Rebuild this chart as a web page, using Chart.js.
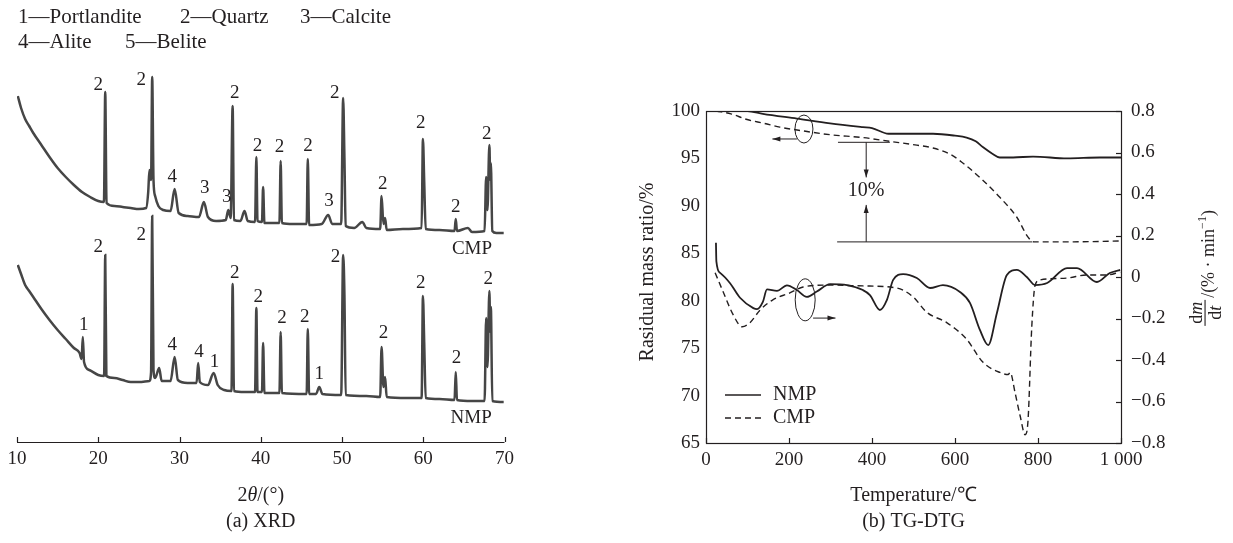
<!DOCTYPE html>
<html>
<head>
<meta charset="utf-8">
<script src="https://cdn.jsdelivr.net/npm/chart.js@4.4.1/dist/chart.umd.min.js"></script>
<style>
  html, body { margin: 0; padding: 0; background: #fff; }
  body { width: 1233px; height: 543px; position: relative; overflow: hidden; }
  #xrd { position: absolute; left: 0; top: 0; }
  #tg { position: absolute; left: 620px; top: 0; }
</style>
</head>
<body>
<canvas id="xrd" width="520" height="543"></canvas>
<canvas id="tg" width="613" height="543"></canvas>
<script>
const FONT = '"Liberation Serif", "Times New Roman", serif';
const INK = '#231f20';

// ---------- (a) XRD  (counts are arbitrary, CMP trace is shifted up) ----------
const phaseNames = ['Portlandite', 'Quartz', 'Calcite', 'Alite', 'Belite'];

const cmpAngle = [10.1, 10.5, 11.0, 11.5, 12.0, 13.0, 14.0, 15.0, 16.0, 17.0, 18.0, 19.0, 20.0, 20.7, 20.86, 21.02,
  22.0, 23.0, 24.0, 25.0, 25.9, 26.15, 26.3, 26.5, 26.64, 26.8, 27.0, 27.4, 28.0, 28.9, 29.4, 29.9,
  31.0, 32.4, 33.0, 33.5, 34.5, 35.7, 36.0, 36.3, 36.54, 36.7, 37.5, 38.0, 38.4, 39.3, 39.46, 39.6,
  40.15, 40.29, 40.45, 41.5, 42.3, 42.45, 42.6, 44.0, 45.65, 45.79, 45.95, 47.5, 48.3, 48.8, 49.9,
  50.14, 50.3, 50.45, 51.5, 52.5, 53.0, 54.7, 54.87, 55.1, 55.3, 55.5, 57.5, 59.8, 59.96, 60.12, 60.3,
  62.0, 63.85, 64.0, 64.15, 65.5, 66.0, 67.55, 67.74, 67.9, 68.14, 68.25, 68.32, 68.5, 69.0, 69.9];
const cmpCount = [346, 334, 323, 316, 309, 297, 285, 274, 265, 257, 250, 245, 241, 240, 350, 239,
  236, 235, 234, 233, 234, 250, 272, 262, 365, 262, 246, 236, 232, 231, 253, 229,
  226, 225, 240, 225, 221, 222, 232, 224, 336, 222, 221, 231, 221, 220, 285, 221,
  220, 255, 219, 219, 219, 281, 219, 218, 218, 283, 217, 218, 227, 218, 218,
  344, 284, 216, 214, 220, 214, 213, 246, 218, 224, 212, 213, 214, 303, 260, 213,
  212, 211, 223, 211, 214, 210, 211, 265, 232, 297, 262, 279, 211, 209, 209];

const nmpAngle = [10.1, 10.5, 11.0, 11.5, 12.0, 13.0, 14.0, 15.0, 16.0, 17.0, 17.7, 17.95, 18.1, 18.25, 18.9, 20.0,
  20.72, 20.86, 21.0, 22.0, 23.0, 24.0, 25.0, 26.3, 26.5, 26.64, 26.8, 27.0, 27.5, 27.8, 28.9, 29.4, 29.8,
  31.0, 32.1, 32.3, 32.5, 33.5, 34.2, 34.7, 35.5, 36.4, 36.54, 36.7, 38.0, 39.3, 39.46, 39.6,
  40.15, 40.29, 40.45, 42.3, 42.45, 42.6, 45.65, 45.79, 45.95, 46.8, 47.2, 47.6, 49.9,
  50.14, 50.3, 50.45, 53.0, 54.7, 54.87, 55.1, 55.3, 55.5, 58.0, 59.8, 59.96, 60.12, 60.3,
  62.0, 63.85, 64.0, 64.15, 66.0, 67.55, 67.74, 67.9, 68.14, 68.25, 68.32, 68.5, 69.9];
const nmpCount = [177, 168, 157, 151, 145, 133, 122, 112, 103, 94, 89, 83, 105, 80, 72, 67,
  66, 187, 66, 64, 62, 60, 60, 61, 70, 226, 72, 64, 74, 61, 61, 85, 62,
  59, 59, 79, 60, 57, 69, 57, 52, 51, 158, 51, 50, 50, 134, 50,
  50, 99, 49, 49, 110, 49, 48, 113, 48, 48, 55, 48, 47,
  187, 147, 47, 46, 45, 95, 55, 65, 45, 44, 44, 146, 99, 44,
  43, 42, 70, 42, 41, 41, 124, 75, 151, 110, 135, 41, 40];

// phase numbers written over the peaks (2θ, counts of the number's centre)
const cmpMarkText = ['2', '2', '4', '3', '3', '2', '2', '2', '2', '3', '2', '2', '2', '2', '2'];
const cmpMarkAngle = [20.0, 25.3, 29.1, 33.1, 35.8, 36.8, 39.6, 42.3, 45.8, 48.4, 49.1, 55.0, 59.7, 64.0, 67.8];
const cmpMarkCount = [357, 362, 265, 254, 245, 349, 296, 295, 296, 241, 349, 258, 319, 235, 308];
const nmpMarkText = ['1', '2', '2', '4', '4', '1', '2', '2', '2', '2', '1', '2', '2', '2', '2', '2'];
const nmpMarkAngle = [18.2, 20.0, 25.3, 29.1, 32.4, 34.3, 36.8, 39.7, 42.6, 45.4, 47.2, 49.2, 55.1, 59.7, 64.1, 68.0];
const nmpMarkCount = [117, 195, 207, 97, 90, 80, 169, 145, 124, 125, 68, 185, 109, 159, 84, 163];
const sampleNames = ['CMP', 'NMP'];
const sampleAngle = [66.0, 65.9];
const sampleCount = [193, 24];

// ---------- (b) TG-DTG ----------
const nmpTgTemp = [25, 100, 137, 219, 299, 378, 400, 440, 470, 547, 600, 628, 650, 667, 690, 708, 740, 788, 870, 949, 1000];
const nmpTgMass = [100, 100, 99.7, 99.2, 98.7, 98.3, 98.2, 97.6, 97.6, 97.6, 97.4, 97.2, 96.8, 96.2, 95.5, 95.1, 95.1, 95.2, 95.0, 95.1, 95.1];
const cmpTgTemp = [25, 60, 99, 140, 178, 234, 299, 378, 443, 508, 547, 590, 628, 667, 708, 749, 776, 790, 870, 1000];
const cmpTgMass = [100, 99.7, 99.1, 98.7, 98.3, 97.9, 97.5, 97.2, 96.8, 96.4, 96.1, 95.4, 94.2, 92.7, 90.9, 88.8, 86.7, 86.2, 86.2, 86.3];

const nmpDtgTemp = [24, 25, 34, 58, 82, 114, 123, 137, 147, 171, 195, 219, 243, 267, 299, 340, 378, 395, 419, 436, 451, 475,
  508, 540, 571, 612, 636, 660, 680, 701, 725, 749, 773, 793, 822, 870, 894, 942, 973, 998];
const nmpDtgRate = [0.165, 0.075, 0.02, -0.03, -0.10, -0.15, -0.155, -0.12, -0.06, -0.067, -0.04, -0.063, -0.096, -0.07, -0.034, -0.039, -0.063, -0.087, -0.159, -0.11, -0.014, 0.014,
  -0.005, -0.053, -0.039, -0.072, -0.125, -0.255, -0.328, -0.173, 0.01, 0.034, 0, -0.039, -0.029, 0.043, 0.043, -0.024, 0.019, 0.034];
const cmpDtgTemp = [22, 41, 65, 87, 106, 130, 161, 202, 234, 299, 378, 460, 499, 532, 580, 628, 667, 708, 728, 733, 745, 757, 769, 776, 785, 793, 805, 870, 918, 966, 998];
const cmpDtgRate = [0.02, -0.07, -0.18, -0.24, -0.22, -0.16, -0.11, -0.077, -0.048, -0.039, -0.043, -0.053, -0.096, -0.17, -0.22, -0.30, -0.41, -0.46, -0.47, -0.46, -0.56, -0.67, -0.76, -0.69, -0.24, -0.04, -0.014, -0.005, 0.01, 0.01, 0.024];

// 10 % mass-loss marker (temperature, mass)
const lossTopMass = 96.7, lossBottomMass = 86.2;
const lossText = '10%';

const pts = (xs, ys) => xs.map((v, i) => ({ x: v, y: ys[i] }));

function arrow(ctx, x1, y1, x2, y2) {
  const ang = Math.atan2(y2 - y1, x2 - x1);
  ctx.beginPath(); ctx.moveTo(x1, y1); ctx.lineTo(x2, y2); ctx.stroke();
  ctx.beginPath();
  ctx.moveTo(x2, y2);
  ctx.lineTo(x2 - 8 * Math.cos(ang) + 2.5 * Math.sin(ang), y2 - 8 * Math.sin(ang) - 2.5 * Math.cos(ang));
  ctx.lineTo(x2 - 8 * Math.cos(ang) - 2.5 * Math.sin(ang), y2 - 8 * Math.sin(ang) + 2.5 * Math.cos(ang));
  ctx.closePath(); ctx.fill();
}

// ---------------- XRD chart ----------------
const xrdDecor = {
  id: 'xrdDecor',
  afterDatasetsDraw(chart) {
    const { ctx, chartArea: a, scales: { x, y } } = chart;
    ctx.save();
    ctx.strokeStyle = INK; ctx.fillStyle = INK; ctx.lineWidth = 1.2;
    ctx.beginPath(); ctx.moveTo(a.left, a.bottom + 0.5); ctx.lineTo(a.right, a.bottom + 0.5); ctx.stroke();
    x.ticks.forEach(t => {
      const px = Math.round(x.getPixelForValue(t.value)) + 0.5;
      ctx.beginPath(); ctx.moveTo(px, a.bottom); ctx.lineTo(px, a.bottom - 5); ctx.stroke();
    });
    ctx.font = '19px ' + FONT; ctx.textAlign = 'center'; ctx.textBaseline = 'middle';
    cmpMarkText.forEach((s, i) => ctx.fillText(s, x.getPixelForValue(cmpMarkAngle[i]), y.getPixelForValue(cmpMarkCount[i])));
    nmpMarkText.forEach((s, i) => ctx.fillText(s, x.getPixelForValue(nmpMarkAngle[i]), y.getPixelForValue(nmpMarkCount[i])));
    sampleNames.forEach((s, i) => ctx.fillText(s, x.getPixelForValue(sampleAngle[i]), y.getPixelForValue(sampleCount[i])));

    // phase key
    ctx.font = '21px ' + FONT; ctx.textAlign = 'left';
    const keyX = [18, 180, 300, 18, 125], keyY = [17, 17, 17, 42, 42];
    phaseNames.forEach((n, i) => ctx.fillText((i + 1) + '\u2014' + n, keyX[i], keyY[i]));

    // axis title 2θ/(°) and caption
    const cx = (a.left + a.right) / 2;
    ctx.font = '20px ' + FONT;
    const w2 = ctx.measureText('2').width, wr = ctx.measureText('/(\u00b0)').width;
    ctx.font = 'italic 20px ' + FONT;
    const wt = ctx.measureText('\u03b8').width;
    let tx = cx - (w2 + wt + wr) / 2;
    ctx.font = '20px ' + FONT; ctx.fillText('2', tx, 496); tx += w2;
    ctx.font = 'italic 20px ' + FONT; ctx.fillText('\u03b8', tx, 496); tx += wt;
    ctx.font = '20px ' + FONT; ctx.fillText('/(\u00b0)', tx, 496);
    ctx.textAlign = 'center';
    ctx.fillText('(a) XRD', cx, 522);
    ctx.restore();
  }
};

new Chart(document.getElementById('xrd'), {
  type: 'line',
  data: {
    datasets: [
      { label: 'CMP', data: pts(cmpAngle, cmpCount), borderColor: '#464646', borderWidth: 2.5, pointRadius: 0, cubicInterpolationMode: 'monotone' },
      { label: 'NMP', data: pts(nmpAngle, nmpCount), borderColor: '#464646', borderWidth: 2.5, pointRadius: 0, cubicInterpolationMode: 'monotone' }
    ]
  },
  options: {
    responsive: false,
    animation: false,
    events: [],
    layout: { padding: { left: 17, right: 9, top: 62, bottom: 0 } },
    plugins: { legend: { display: false }, tooltip: { enabled: false } },
    scales: {
      x: {
        type: 'linear', min: 10, max: 70,
        grid: { display: false, drawTicks: false },
        border: { display: false },
        ticks: { stepSize: 10, padding: 6, color: INK, font: { family: FONT, size: 19 } },
        afterFit(s) { s.height = 101; }
      },
      y: { display: false, min: 0, max: 380 }
    }
  },
  plugins: [xrdDecor]
});

// ---------------- TG-DTG chart ----------------
const tgDecor = {
  id: 'tgDecor',
  afterDatasetsDraw(chart) {
    const { ctx, chartArea: a, scales: { x, y, y1 } } = chart;
    ctx.save();
    ctx.strokeStyle = INK; ctx.fillStyle = INK; ctx.lineWidth = 1.2;
    ctx.strokeRect(Math.round(a.left) + 0.5, Math.round(a.top) + 0.5, Math.round(a.right - a.left), Math.round(a.bottom - a.top));
    x.ticks.forEach(t => {
      const px = Math.round(x.getPixelForValue(t.value)) + 0.5;
      ctx.beginPath(); ctx.moveTo(px, a.bottom); ctx.lineTo(px, a.bottom - 5); ctx.stroke();
    });
    y1.ticks.forEach(t => {
      const py = Math.round(y1.getPixelForValue(t.value)) + 0.5;
      ctx.beginPath(); ctx.moveTo(a.right, py); ctx.lineTo(a.right - 5, py); ctx.stroke();
    });

    ctx.lineWidth = 1;
    // ellipse + arrow for TG curves (left axis)
    ctx.beginPath();
    ctx.ellipse(x.getPixelForValue(236), y.getPixelForValue(98.1), 9, 14, 0, 0, Math.PI * 2);
    ctx.stroke();
    arrow(ctx, x.getPixelForValue(219), y.getPixelForValue(97.05), x.getPixelForValue(160), y.getPixelForValue(97.05));
    // ellipse + arrow for DTG curves (right axis)
    ctx.beginPath();
    ctx.ellipse(x.getPixelForValue(239), y1.getPixelForValue(-0.11), 10, 21, 0, 0, Math.PI * 2);
    ctx.stroke();
    arrow(ctx, x.getPixelForValue(258), y1.getPixelForValue(-0.198), x.getPixelForValue(312), y1.getPixelForValue(-0.198));

    // 10 % loss marker
    const yt = y.getPixelForValue(lossTopMass), yb = y.getPixelForValue(lossBottomMass);
    ctx.beginPath();
    ctx.moveTo(x.getPixelForValue(318), yt); ctx.lineTo(x.getPixelForValue(443), yt);
    ctx.moveTo(x.getPixelForValue(316), yb); ctx.lineTo(x.getPixelForValue(786), yb);
    ctx.stroke();
    const xa = x.getPixelForValue(386);
    arrow(ctx, xa, yt, xa, y.getPixelForValue(93.0));
    arrow(ctx, xa, yb, xa, y.getPixelForValue(90.1));
    ctx.font = '20px ' + FONT; ctx.textAlign = 'center'; ctx.textBaseline = 'middle';
    ctx.fillText(lossText, xa, y.getPixelForValue(91.55));

    // legend inside the frame
    chart.data.datasets.slice(0, 2).forEach((ds, i) => {
      const ly = 395 + i * 23;
      ctx.save();
      ctx.lineWidth = 1.6; ctx.setLineDash(ds.borderDash || []);
      ctx.beginPath(); ctx.moveTo(a.left + 19, ly); ctx.lineTo(a.left + 55, ly); ctx.stroke();
      ctx.restore();
      ctx.textAlign = 'left';
      ctx.fillText(ds.label, a.left + 67, ly);
    });

    // axis titles and caption
    const cx = (a.left + a.right) / 2;
    ctx.textAlign = 'center';
    ctx.fillText('Temperature/\u2103', cx, 496);
    ctx.fillText('(b) TG-DTG', cx, 522);

    ctx.save();
    ctx.translate(28, 272); ctx.rotate(-Math.PI / 2);
    ctx.fillText('Rasidual mass ratio/%', 0, 0);
    ctx.restore();

    // dm/dt /(%·min-1)
    ctx.save();
    ctx.translate(585, 268); ctx.rotate(-Math.PI / 2);
    ctx.textAlign = 'left'; ctx.textBaseline = 'alphabetic';
    const up = '18px ' + FONT, it = 'italic 18px ' + FONT, sm = '12px ' + FONT;
    ctx.font = up; const wd = ctx.measureText('d').width;
    ctx.font = it; const wm = ctx.measureText('m').width, wtt = ctx.measureText('t').width;
    const fracW = wd + wm + 4;
    ctx.font = up; const r1 = '/(% \u00b7 min', w1 = ctx.measureText(r1).width, w3 = ctx.measureText(')').width;
    ctx.font = sm; const w2 = ctx.measureText('\u22121').width;
    const total = fracW + 2 + w1 + w2 + w3;
    const x0 = -total / 2;
    let nx = x0 + (fracW - wd - wm) / 2;
    ctx.font = up; ctx.fillText('d', nx, -3); ctx.font = it; ctx.fillText('m', nx + wd, -3);
    ctx.fillRect(x0, -0.5, fracW, 1.1);
    nx = x0 + (fracW - wd - wtt) / 2;
    ctx.font = up; ctx.fillText('d', nx, 16); ctx.font = it; ctx.fillText('t', nx + wd, 16);
    let rx = x0 + fracW + 2;
    ctx.font = up; ctx.fillText(r1, rx, 9); rx += w1;
    ctx.font = sm; ctx.fillText('\u22121', rx, 1); rx += w2;
    ctx.font = up; ctx.fillText(')', rx, 9);
    ctx.restore();

    ctx.restore();
  }
};

new Chart(document.getElementById('tg'), {
  type: 'line',
  data: {
    datasets: [
      { label: 'NMP', data: pts(nmpTgTemp, nmpTgMass), yAxisID: 'y', borderColor: INK, borderWidth: 1.8, pointRadius: 0, cubicInterpolationMode: 'monotone' },
      { label: 'CMP', data: pts(cmpTgTemp, cmpTgMass), yAxisID: 'y', borderColor: INK, borderWidth: 1.4, borderDash: [6, 4], pointRadius: 0, cubicInterpolationMode: 'monotone' },
      { label: 'NMP DTG', data: pts(nmpDtgTemp, nmpDtgRate), yAxisID: 'y1', borderColor: INK, borderWidth: 1.8, pointRadius: 0, cubicInterpolationMode: 'monotone' },
      { label: 'CMP DTG', data: pts(cmpDtgTemp, cmpDtgRate), yAxisID: 'y1', borderColor: INK, borderWidth: 1.4, borderDash: [6, 4], pointRadius: 0, cubicInterpolationMode: 'monotone' }
    ]
  },
  options: {
    responsive: false,
    animation: false,
    events: [],
    layout: { padding: { left: 0, right: 0, top: 111, bottom: 0 } },
    plugins: { legend: { display: false }, tooltip: { enabled: false } },
    scales: {
      x: {
        type: 'linear', min: 0, max: 1000,
        grid: { display: false, drawTicks: false },
        border: { display: false },
        ticks: {
          stepSize: 200, padding: 6, color: INK, font: { family: FONT, size: 19 },
          callback: v => v >= 1000 ? String(v).replace(/(\d)(\d{3})$/, '$1 $2') : String(v)
        },
        afterFit(s) { s.height = 100; }
      },
      y: {
        position: 'left', min: 65, max: 100,
        grid: { display: false, drawTicks: false },
        border: { display: false },
        ticks: { stepSize: 5, padding: 6, color: INK, font: { family: FONT, size: 19 } },
        afterFit(s) { s.width = 86; }
      },
      y1: {
        position: 'right', min: -0.8, max: 0.8,
        grid: { display: false, drawTicks: false },
        border: { display: false },
        ticks: {
          stepSize: 0.2, padding: 10, color: INK, font: { family: FONT, size: 19 },
          callback: v => { const r = Math.round(v * 10) / 10; return r === 0 ? '0' : String(r).replace('-', '\u2212'); }
        },
        afterFit(s) { s.width = 112; }
      }
    }
  },
  plugins: [tgDecor]
});
</script>
</body>
</html>
